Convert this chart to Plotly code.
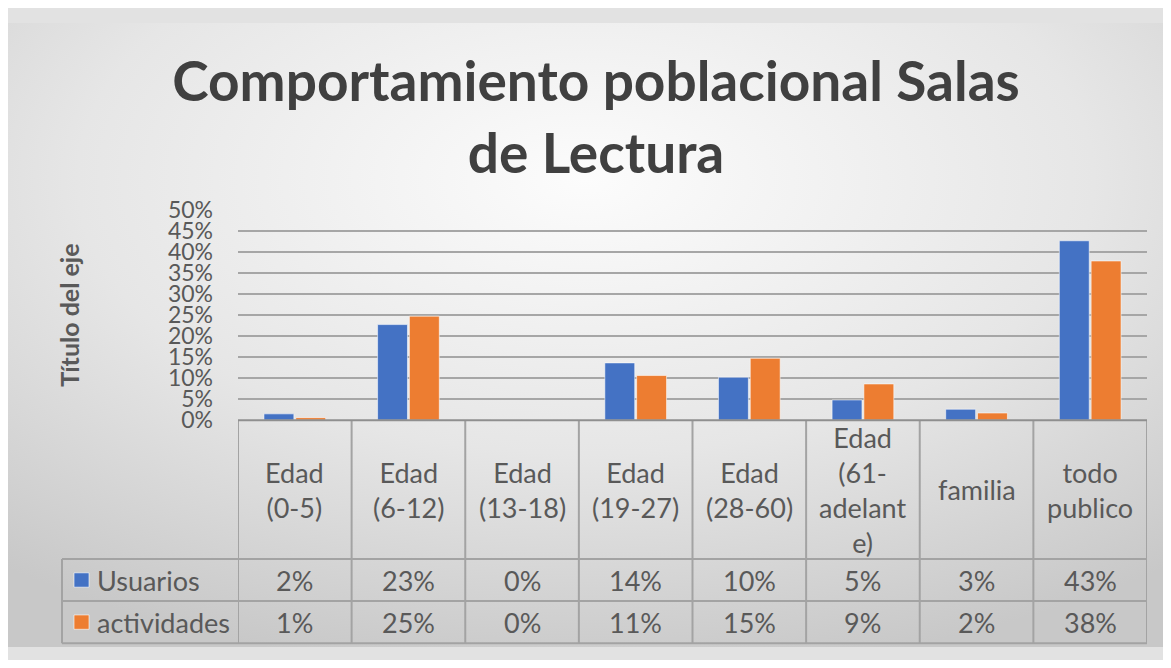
import base64
import plotly.graph_objects as go

# ---------------- data ----------------
categories = ["Edad (0-5)", "Edad (6-12)", "Edad (13-18)", "Edad (19-27)",
              "Edad (28-60)", "Edad (61-adelante)", "familia", "todo publico"]
header_labels = ["Edad<br>(0-5)", "Edad<br>(6-12)", "Edad<br>(13-18)", "Edad<br>(19-27)",
                 "Edad<br>(28-60)", "Edad<br>(61-<br>adelant<br>e)", "familia", "todo<br>publico"]
series_names = ["Usuarios", "actividades"]
usuarios = [0.015, 0.227, 0.0, 0.136, 0.102, 0.048, 0.026, 0.426]
actividades = [0.006, 0.247, 0.0, 0.106, 0.147, 0.086, 0.017, 0.378]
usuarios_labels = ["2%", "23%", "0%", "14%", "10%", "5%", "3%", "43%"]
actividades_labels = ["1%", "25%", "0%", "11%", "15%", "9%", "2%", "38%"]
y_ticks = [0, 0.05, 0.10, 0.15, 0.20, 0.25, 0.30, 0.35, 0.40, 0.45, 0.50]
title_text = "Comportamiento poblacional Salas<br>de Lectura"
y_title = "Título del eje"

# ---------------- style ----------------
OFF = 8                      # page margin of the browser
W, H = 1171 - 2 * OFF, 668 - 2 * OFF
colors = ["#4472C4", "#ED7D31"]
FONT = "Lato"
TXT = "#595959"
GRID = "#a6a6a6"
LINE = "#a3a3a3"

def px_x(p):
    return (p - OFF) / W

def px_y(p):
    return (H - (p - OFF)) / H

plot_left, plot_right = 238, 1147
plot_top, plot_bottom = 203, 423
legend_left = 62
row_lines = [568, 612, 656]

fig = go.Figure()
for name, vals, col in zip(series_names, [usuarios, actividades], colors):
    fig.add_trace(go.Bar(
        x=categories, y=vals, name=name,
        marker=dict(color=col, line=dict(color="rgba(255,255,255,0.55)", width=1)),
        showlegend=False, hoverinfo="x+y+name",
    ))

# background gradient (image)
svg = (f'<svg xmlns="http://www.w3.org/2000/svg" width="{W}" height="{H}" preserveAspectRatio="none">'
       '<defs><radialGradient id="g" cx="0.5" cy="0.25" r="0.8">'
       '<stop offset="0" stop-color="#fcfcfc"/><stop offset="0.55" stop-color="#e6e6e6"/>'
       '<stop offset="1" stop-color="#c8c8c8"/></radialGradient></defs>'
       '<rect width="100%" height="100%" fill="url(#g)"/></svg>')
src = "data:image/svg+xml;base64," + base64.b64encode(svg.encode()).decode()

shapes = []
for yy in row_lines:
    shapes.append(dict(type="line", xref="paper", yref="paper",
                       x0=px_x(legend_left), x1=px_x(plot_right),
                       y0=px_y(yy), y1=px_y(yy), line=dict(color=LINE, width=2)))
n = len(categories)
for i in range(n + 1):
    shapes.append(dict(type="line", xref="x", yref="paper",
                       x0=i - 0.5, x1=i - 0.5, y0=px_y(plot_bottom), y1=px_y(row_lines[-1]),
                       line=dict(color=LINE, width=2)))
shapes.append(dict(type="line", xref="paper", yref="paper",
                   x0=px_x(legend_left), x1=px_x(legend_left),
                   y0=px_y(row_lines[0]), y1=px_y(row_lines[-1]),
                   line=dict(color=LINE, width=2)))
shapes.append(dict(type="line", xref="x", yref="paper", x0=-0.5, x1=n - 0.5,
                   y0=px_y(plot_bottom), y1=px_y(plot_bottom),
                   line=dict(color="#8f8f8f", width=2)))

annotations = []
hdr_y = px_y((plot_bottom + row_lines[0]) / 2)
r1_y = px_y((row_lines[0] + row_lines[1]) / 2)
r2_y = px_y((row_lines[1] + row_lines[2]) / 2)
cell_font = dict(family=FONT, size=27, color=TXT)
for cat, hl, u, a in zip(categories, header_labels, usuarios_labels, actividades_labels):
    for txt, yy in ((hl, hdr_y), (u, r1_y), (a, r2_y)):
        annotations.append(dict(x=cat, xref="x", y=yy, yref="paper", text=txt, showarrow=False,
                                xanchor="center", yanchor="middle", align="center",
                                font=cell_font))
for name, col, yy in zip(series_names, colors, [r1_y, r2_y]):
    shapes.append(dict(type="rect", xref="paper", yref="paper",
                       x0=px_x(74), x1=px_x(89), y0=yy - 7.5 / H, y1=yy + 7.5 / H,
                       fillcolor=col, line=dict(color="rgba(255,255,255,0.6)", width=1)))
    annotations.append(dict(x=px_x(95), xref="paper", y=yy, yref="paper", text=name,
                            showarrow=False, xanchor="left", yanchor="middle", font=cell_font))
annotations.append(dict(x=px_x(69), xref="paper", y=px_y(314), yref="paper",
                        text=f"<b>{y_title}</b>", textangle=-90, showarrow=False,
                        xanchor="center", yanchor="middle",
                        font=dict(family=FONT, size=25, color=TXT)))

fig.update_layout(
    width=W, height=H, autosize=False,
    margin=dict(l=0, r=0, t=0, b=0),
    paper_bgcolor="#e2e2e2", plot_bgcolor="rgba(0,0,0,0)",
    barmode="group", bargap=0.44, bargroupgap=0.06,
    title=dict(text=f"<b>{title_text}</b>", x=px_x(596), xanchor="center",
               y=px_y(101), yanchor="middle", yref="container",
               font=dict(family=FONT, size=55, color="#404040")),
    xaxis=dict(domain=[px_x(plot_left), px_x(plot_right)], range=[-0.5, n - 0.5],
               showticklabels=False, showgrid=False, zeroline=False, showline=False,
               fixedrange=True),
    yaxis=dict(domain=[px_y(plot_bottom), px_y(plot_top)], range=[0, 0.5],
               tickvals=y_ticks, tickformat=".0%", showgrid=True, gridcolor=GRID, gridwidth=2,
               zeroline=False, showline=False, ticks="", ticklabelstandoff=24,
               tickfont=dict(family=FONT, size=23, color=TXT), fixedrange=True),
    images=[dict(source=src, xref="paper", yref="paper", x=0, y=1, sizex=1, sizey=1,
                 sizing="stretch", xanchor="left", yanchor="top", layer="below")],
    shapes=shapes, annotations=annotations,
)

fig.write_html("out.html")
